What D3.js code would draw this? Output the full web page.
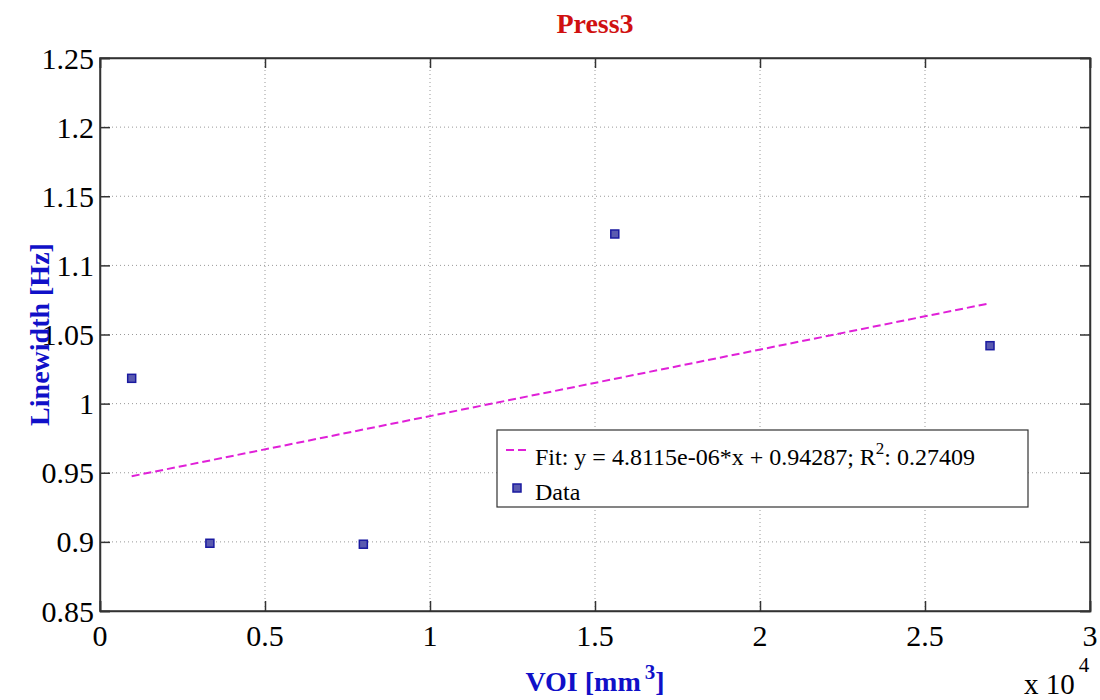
<!DOCTYPE html>
<html lang="en">
<head>
    <meta charset="UTF-8">
    <title>Press3</title>
    <script src="https://d3js.org/d3.v7.min.js"></script>
    <style>
        body {margin: 0; background: white;}
        text {font-family: "Liberation Serif", "Times New Roman", serif;}
    </style>
</head>
<body>
<script>
    // values
    const voi       = [960, 3330, 7980, 15600, 26970];          // mm^3
    const linewidth = [1.0183, 0.899, 0.8983, 1.1227, 1.0419];  // Hz
    const fitSlope = 4.8115e-06;
    const fitIntercept = 0.94287;
    const fitR2 = "0.27409";
    const xTicks = [0, 0.5, 1, 1.5, 2, 2.5, 3];   // x 10^4
    const yTicks = [0.85, 0.9, 0.95, 1, 1.05, 1.1, 1.15, 1.2, 1.25];

    const width = 1100;
    const height = 700;
    const margin = {left: 100, right: 10, top: 58, bottom: 89};

    const svg = d3.select("body").append("svg")
            .attr("width", width).attr("height", height);

    const x = d3.scaleLinear().domain([0, 3e4]).range([margin.left, width - margin.right]);
    const y = d3.scaleLinear().domain([0.85, 1.25]).range([height - margin.bottom, margin.top]);

    const x0 = x.range()[0], x1 = x.range()[1];
    const y0 = y.range()[0], y1 = y.range()[1];

    // grid
    svg.append("g").selectAll("line.vgrid")
            .data(xTicks.slice(1, -1))
            .enter().append("line")
            .attr("x1", d => x(d * 1e4)).attr("x2", d => x(d * 1e4))
            .attr("y1", y0).attr("y2", y1)
            .style("stroke", "#999").style("stroke-dasharray", "1,3");

    svg.append("g").selectAll("line.hgrid")
            .data(yTicks.slice(1, -1))
            .enter().append("line")
            .attr("x1", x0).attr("x2", x1)
            .attr("y1", d => y(d)).attr("y2", d => y(d))
            .style("stroke", "#999").style("stroke-dasharray", "1,3");

    // axes, ticks pointing inwards on all four sides
    const fmt = d => String(d);
    svg.append("g").attr("transform", `translate(0,${y0})`)
            .call(d3.axisTop(x).tickValues(xTicks.map(d => d * 1e4)).tickSize(10).tickFormat(""));
    svg.append("g").attr("transform", `translate(0,${y1})`)
            .call(d3.axisBottom(x).tickValues(xTicks.map(d => d * 1e4)).tickSize(10).tickFormat(""));
    svg.append("g").attr("transform", `translate(${x0},0)`)
            .call(d3.axisRight(y).tickValues(yTicks).tickSize(10).tickFormat(""));
    svg.append("g").attr("transform", `translate(${x1},0)`)
            .call(d3.axisLeft(y).tickValues(yTicks).tickSize(10).tickFormat(""));
    svg.selectAll(".domain, .tick line").style("stroke", "#333").style("stroke-width", 1.5);

    svg.append("rect")
            .attr("x", x0).attr("y", y1)
            .attr("width", x1 - x0).attr("height", y0 - y1)
            .style("fill", "none").style("stroke", "#333").style("stroke-width", 1.5);

    // tick labels
    svg.selectAll("text.xlab")
            .data(xTicks)
            .enter().append("text")
            .attr("x", d => x(d * 1e4)).attr("y", y0 + 35)
            .attr("text-anchor", "middle")
            .style("font-size", "30px")
            .text(fmt);

    svg.selectAll("text.ylab")
            .data(yTicks)
            .enter().append("text")
            .attr("x", x0 - 6).attr("y", d => y(d)).attr("dy", "0.35em")
            .attr("text-anchor", "end")
            .style("font-size", "30px")
            .text(fmt);

    // x 10^4
    const mult = svg.append("text").attr("x", 1024).attr("y", 694).style("font-size", "29px");
    mult.append("tspan").text("x 10");
    mult.append("tspan").attr("dy", -22).attr("dx", 4).style("font-size", "21px").text("4");

    // title and axis labels
    svg.append("text")
            .attr("x", (x0 + x1) / 2).attr("y", 33)
            .attr("text-anchor", "middle")
            .style("font-size", "28px").style("font-weight", "bold").style("fill", "#d01010")
            .text("Press3");

    const xl = svg.append("text")
            .attr("x", (x0 + x1) / 2).attr("y", 691)
            .attr("text-anchor", "middle")
            .style("font-size", "28px").style("font-weight", "bold").style("fill", "#1010c8");
    xl.append("tspan").text("VOI [mm");
    xl.append("tspan").attr("dy", -12).attr("dx", 4).style("font-size", "21px").text("3");
    xl.append("tspan").attr("dy", 12).text("]");

    svg.append("text")
            .attr("transform", `translate(49,${(y0 + y1) / 2}) rotate(-90)`)
            .attr("text-anchor", "middle")
            .style("font-size", "28px").style("font-weight", "bold").style("fill", "#1010c8")
            .text("Linewidth [Hz]");

    // fit line
    const fitX = d3.extent(voi);
    svg.append("path")
            .datum(fitX.map(v => [v, fitSlope * v + fitIntercept]))
            .attr("d", d3.line().x(d => x(d[0])).y(d => y(d[1])))
            .style("fill", "none").style("stroke", "#e020d8")
            .style("stroke-width", 2).style("stroke-dasharray", "8,4");

    // data markers
    svg.selectAll("rect.pt")
            .data(d3.zip(voi, linewidth))
            .enter().append("rect")
            .attr("class", "pt")
            .attr("x", d => x(d[0]) - 4).attr("y", d => y(d[1]) - 4)
            .attr("width", 8).attr("height", 8)
            .style("fill", "#5a5ab0").style("stroke", "#1a1aa0").style("stroke-width", 1.5);

    // legend
    const lg = svg.append("g").attr("transform", "translate(497,430)");
    lg.append("rect").attr("width", 531).attr("height", 77)
            .style("fill", "white").style("stroke", "#333").style("stroke-width", 1.2);
    lg.append("line").attr("x1", 9).attr("x2", 33).attr("y1", 20).attr("y2", 20)
            .style("stroke", "#e020d8").style("stroke-width", 2).style("stroke-dasharray", "8,4");
    const t1 = lg.append("text").attr("x", 38).attr("y", 35).style("font-size", "24px");
    t1.append("tspan").text(`Fit: y = ${fitSlope.toExponential(4).replace("e-6", "e-06")}*x + ${fitIntercept}; R`);
    t1.append("tspan").attr("dy", -11).style("font-size", "17px").text("2");
    t1.append("tspan").attr("dy", 11).text(": " + fitR2);
    lg.append("rect").attr("x", 16).attr("y", 54).attr("width", 8).attr("height", 8)
            .style("fill", "#5a5ab0").style("stroke", "#1a1aa0").style("stroke-width", 1.5);
    lg.append("text").attr("x", 38).attr("y", 70).style("font-size", "24px").text("Data");
</script>
</body>
</html>
